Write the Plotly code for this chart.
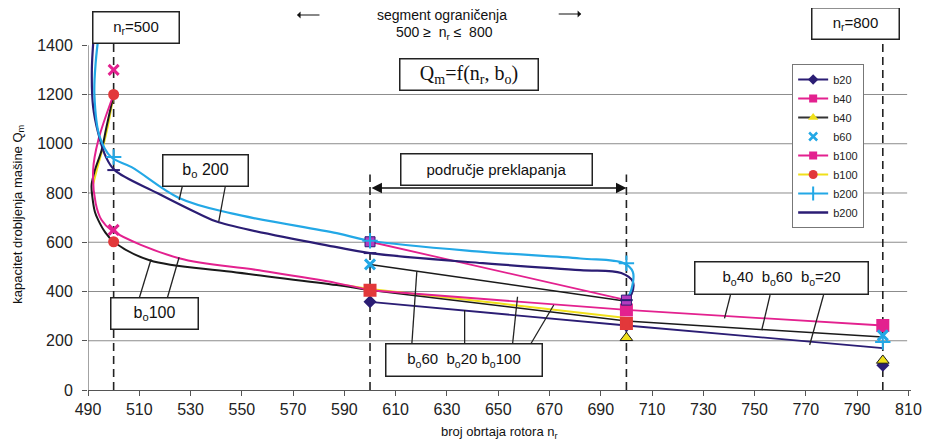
import plotly.graph_objects as go

# ---------------- data ----------------
# b20 (navy, diamond)
b20_line_n = [600, 700, 800]
b20_line_q = [358, 262, 170]
b20_pts_n = [600, 700, 800]
b20_pts_q = [358, 262, 100]

# b40 (magenta, square)
b40m_line_n = [600, 700]
b40m_line_q = [602, 365]
b40m_pts_n = [600, 700]
b40m_pts_q = [602, 365]

# b40 (black line, yellow triangle)
b40k_curve_n = [500, 497.2, 495.3, 492.7, 491.4, 491.7, 492.7, 494, 496.6, 500, 514, 546, 587, 600]
b40k_curve_q = [1200, 1068, 974, 893, 832, 784, 723, 690, 642, 602, 527, 480, 426, 405]
b40k_tail_n = [600, 700, 800]
b40k_tail_q = [405, 280, 215]
b40k_pts_n = [700, 800]
b40k_pts_q = [212, 120]

# b60 (cyan x)
b60_line_n = [600, 700]
b60_line_q = [510, 360]
b60_pts_n = [600, 800]
b60_pts_q = [510, 222]

# b100 (magenta, square)
b100m_curve_n = [500, 494, 492, 493, 495.3, 499.1, 525.5, 556, 587, 600]
b100m_curve_q = [1200, 1014, 893, 758, 690, 649, 535, 487, 434, 405]
b100m_tail_n = [600, 700, 800]
b100m_tail_q = [405, 325, 262]
b100m_pts_n = [500, 500, 600, 700, 700, 800]
b100m_pts_q = [1300, 650, 405, 325, 270, 262]

# b100 (yellow line, red circle)
b100y_curve_n = [500, 497.8, 495.8, 493.6, 492.0]
b100y_curve_q = [1200, 1075, 985, 900, 835]
b100y_tail_n = [587, 600, 650, 700]
b100y_tail_q = [430, 410, 352, 292]
b100y_pts_n = [500, 500]
b100y_pts_q = [1200, 602]

# b200 (cyan, +)
b200c_n = [494.5, 493, 492.5, 494.5, 499, 507, 525.5, 546, 587, 600, 644, 682, 699, 702.5, 702, 700]
b200c_q = [1470, 1330, 1200, 1030, 946, 905, 780, 717, 637, 606, 561, 534, 515, 480, 410, 365]
b200c_pts_n = [500, 600, 700, 800]
b200c_pts_q = [946, 606, 515, 195]

# b200 (navy, -)
b200n_n = [492.5, 491.5, 492, 494, 497, 500.4, 517, 533, 541, 587, 600, 644, 682, 698, 702.5, 702, 700]
b200n_q = [1470, 1300, 1150, 1043, 946, 893, 800, 717, 681, 580, 556, 515, 487, 475, 440, 390, 365]
b200n_pts_n = [500, 600, 700]
b200n_pts_q = [893, 556, 365]

legend_names = ["b20", "b40", "b40", "b60", "b100", "b100", "b200", "b200"]
x_ticks = list(range(490, 811, 20))
y_ticks = list(range(0, 1401, 200))
grid_levels = [200, 400, 600, 800, 1000, 1200]
ref_n = [500, 600, 700, 800]
ref_top = [1455, 875, 875, 1462]

# ---------------- styling ----------------
NAVY = "#2b1d74"
CYAN = "#23a8e6"
MAG = "#e3218f"
BLACK = "#1a1a1a"
YEL = "#f0e01a"
RED = "#e2383a"
FONT = "Liberation Sans"

# page has an 8px body margin; figure is sized so that the plot area lands
# at the reference pixel positions
OFF = 8
W, H = 934 - OFF, 445 - OFF
PL, PR, PT, PB = 88, 919, 28, 390   # plot area in page pixels


def fx(px):
    return (px - PL) / (PR - PL)


def fy(py):
    return (PB - py) / (PB - PT)


fig = go.Figure()


def line(n, q, color, width=2, shape="spline"):
    fig.add_trace(go.Scatter(x=n, y=q, mode="lines", showlegend=False, hoverinfo="skip",
                             line=dict(color=color, width=width, shape=shape, smoothing=1.0)))


def marks(n, q, symbol, color, size=9, lc=None, lw=0):
    fig.add_trace(go.Scatter(x=n, y=q, mode="markers", showlegend=False, hoverinfo="skip",
                             cliponaxis=False,
                             marker=dict(symbol=symbol, color=color, size=size,
                                         line=dict(color=lc if lc else color, width=lw))))


# lines
line(b100y_curve_n, b100y_curve_q, YEL, 2)
line(b100y_tail_n, b100y_tail_q, YEL, 2, "linear")
line(b40k_curve_n, b40k_curve_q, BLACK, 2)
line(b40k_tail_n, b40k_tail_q, BLACK, 1.5, "linear")
line(b60_line_n, b60_line_q, BLACK, 1.5, "linear")
line(b100m_curve_n, b100m_curve_q, MAG, 2)
line(b100m_tail_n, b100m_tail_q, MAG, 1.8, "linear")
line(b40m_line_n, b40m_line_q, MAG, 1.8, "linear")
line(b20_line_n, b20_line_q, NAVY, 1.8, "linear")
line(b200n_n, b200n_q, NAVY, 2.2)
line(b200c_n, b200c_q, CYAN, 2.2)

# markers
marks(b20_pts_n, b20_pts_q, "diamond", NAVY, 10)
marks(b100m_pts_n, b100m_pts_q, ["x-thin", "x-thin", "square", "square", "square", "square"],
      [MAG, MAG, RED, MAG, RED, MAG], 10, lc=[MAG, MAG, RED, MAG, RED, MAG], lw=3)
marks(b40m_pts_n, b40m_pts_q, "square", "#b43cc0", 10, lc=NAVY, lw=1)
marks(b40k_pts_n, b40k_pts_q, "triangle-up", YEL, 11, lc=BLACK, lw=1)
marks(b60_pts_n, b60_pts_q, "x-thin", CYAN, 10, lw=3)
marks(b100y_pts_n, b100y_pts_q, "circle", RED, 11)
marks(b200c_pts_n, b200c_pts_q, "cross-thin", CYAN, 11, lw=2)
marks(b200n_pts_n, b200n_pts_q, "line-ew", NAVY, 9, lw=2)

# legend entries
leg_styles = [
    dict(mode="lines+markers", line=dict(color=NAVY, width=2), marker=dict(symbol="diamond", color=NAVY, size=8)),
    dict(mode="lines+markers", line=dict(color=MAG, width=2), marker=dict(symbol="square", color=MAG, size=8)),
    dict(mode="lines+markers", line=dict(color="#333333", width=2), marker=dict(symbol="triangle-up", color=YEL, size=9)),
    dict(mode="markers", marker=dict(symbol="x-thin", color=CYAN, size=8, line=dict(color=CYAN, width=2.5))),
    dict(mode="lines+markers", line=dict(color=MAG, width=2), marker=dict(symbol="square", color=MAG, size=8)),
    dict(mode="lines+markers", line=dict(color=YEL, width=2), marker=dict(symbol="circle", color=RED, size=9)),
    dict(mode="lines+markers", line=dict(color=CYAN, width=2), marker=dict(symbol="line-ns", color=CYAN, size=10, line=dict(color=CYAN, width=2))),
    dict(mode="lines", line=dict(color=NAVY, width=2.5)),
]
for name, st in zip(legend_names, leg_styles):
    fig.add_trace(go.Scatter(x=[None], y=[None], name=name, showlegend=True, **st))

# ---------------- shapes ----------------
shapes = []
for g in grid_levels:
    shapes.append(dict(type="line", xref="x", yref="y", x0=490, x1=809.5, y0=g, y1=g,
                       line=dict(color="#8c8c8c", width=1), layer="below"))
shapes.append(dict(type="line", xref="x", yref="y", x0=490, x1=490, y0=0, y1=1400,
                   line=dict(color="#666666", width=1.2), layer="below"))
for n, top in zip(ref_n, ref_top):
    shapes.append(dict(type="line", xref="x", yref="y", x0=n, x1=n, y0=0, y1=top,
                       line=dict(color="#222222", width=1.6, dash="8px,5px"), layer="below"))

leaders = [
    ((183.3, 186), (180, 200)), ((226.7, 186), (220, 221.7)),
    ((140, 297.3), (151.7, 259.3)), ((168.3, 297.3), (180, 257.3)),
    ((415, 344), (420, 271.7)), ((468.3, 344), (468.3, 310)),
    ((516.7, 344), (521.7, 296.7)), ((535, 344), (558.3, 305)),
    ((736.7, 295), (730.7, 318.3)), ((776.7, 295), (768.3, 330)),
    ((830.7, 295), (816.7, 345)),
]
for (x0, y0), (x1, y1) in leaders:
    shapes.append(dict(type="line", xref="paper", yref="paper", x0=fx(x0), y0=fy(y0), x1=fx(x1), y1=fy(y1),
                       line=dict(color="#222222", width=1.3)))

# ---------------- annotations ----------------
ann = []


def box(text, cx, cy, w, h, size=15, family=FONT):
    ann.append(dict(text=text, xref="paper", yref="paper", x=fx(cx), y=fy(cy), xanchor="center", yanchor="middle",
                    showarrow=False, width=w - 2, height=h - 2, borderpad=0, bordercolor="#222222", borderwidth=1.5,
                    bgcolor="white", font=dict(family=family, size=size, color="#111111")))


def txt(text, cx, cy, size=14, family=FONT, angle=0):
    ann.append(dict(text=text, xref="paper", yref="paper", x=fx(cx), y=fy(cy), xanchor="center", yanchor="middle",
                    showarrow=False, textangle=angle, font=dict(family=family, size=size, color="#111111")))


def arrow(hx, hy, dx):
    ann.append(dict(text="", xref="paper", yref="paper", x=fx(hx), y=fy(hy), ax=dx, ay=0,
                    showarrow=True, arrowhead=1, arrowsize=1.0, arrowwidth=1.2, arrowcolor="#111111"))


box("n<sub>r</sub>=500", 136.3, 27.5, 87, 32, 15)
box("n<sub>r</sub>=800", 862.5, 23.3, 88, 32, 15)
box("Q<sub>m</sub>=f(n<sub>r</sub>, b<sub>o</sub>)", 473, 74.2, 139, 32, 20, "Liberation Serif")
box("područje preklapanja", 500.8, 169.2, 192, 32, 15)
box("b<sub>o</sub> 200", 206.3, 170.5, 86, 32, 16)
box("b<sub>o</sub>100", 155.5, 313.3, 88, 32, 16)
box("b<sub>o</sub>60  b<sub>o</sub>20 b<sub>o</sub>100", 468, 360.3, 157, 33, 15)
box("b<sub>o</sub>40  b<sub>o</sub>60  b<sub>o</sub>=20", 788, 278.3, 174, 33, 15)

txt("segment ograničenja", 445, 15, 14)
txt("500 ≥  n<sub>r</sub> ≤  800", 448, 33, 14)
arrow(299, 15, 24)
arrow(586, 14, -24)
txt("broj obrtaja rotora n<sub>r</sub>", 503, 432, 13)
txt("kapacitet drobljenja mašine Q<sub>m</sub>", 17, 214, 13, angle=-90)

# double arrow over overlap region
ann.append(dict(x=700, y=820, ax=600, ay=820, xref="x", yref="y", axref="x", ayref="y", text="",
                showarrow=True, arrowhead=2, startarrowhead=2, arrowside="end+start",
                arrowsize=1.3, startarrowsize=1.3, arrowwidth=1.6, arrowcolor="#111111"))

fig.update_layout(
    width=W, height=H,
    margin=dict(l=PL - OFF, r=934 - PR, t=PT - OFF, b=445 - PB),
    paper_bgcolor="white", plot_bgcolor="white",
    font=dict(family=FONT, size=16, color="#222222"),
    shapes=shapes, annotations=ann,
    showlegend=True,
    legend=dict(x=fx(799), y=fy(64), xanchor="left", yanchor="top", bgcolor="white",
                bordercolor="#777777", borderwidth=1, font=dict(size=11, family=FONT),
                tracegroupgap=0, itemwidth=30),
    xaxis=dict(range=[490, 811], tickvals=x_ticks, showgrid=False, zeroline=False,
               showline=True, linecolor="#555555", linewidth=1.2, ticks="outside", ticklen=5,
               tickcolor="#555555", tickfont=dict(size=16)),
    yaxis=dict(range=[0, 1470], tickvals=y_ticks, showgrid=False, zeroline=False, showline=False,
               ticks="outside", ticklen=5, tickcolor="#555555", tickfont=dict(size=16),
               ticklabelstandoff=6),
)

fig.write_html("out.html")
